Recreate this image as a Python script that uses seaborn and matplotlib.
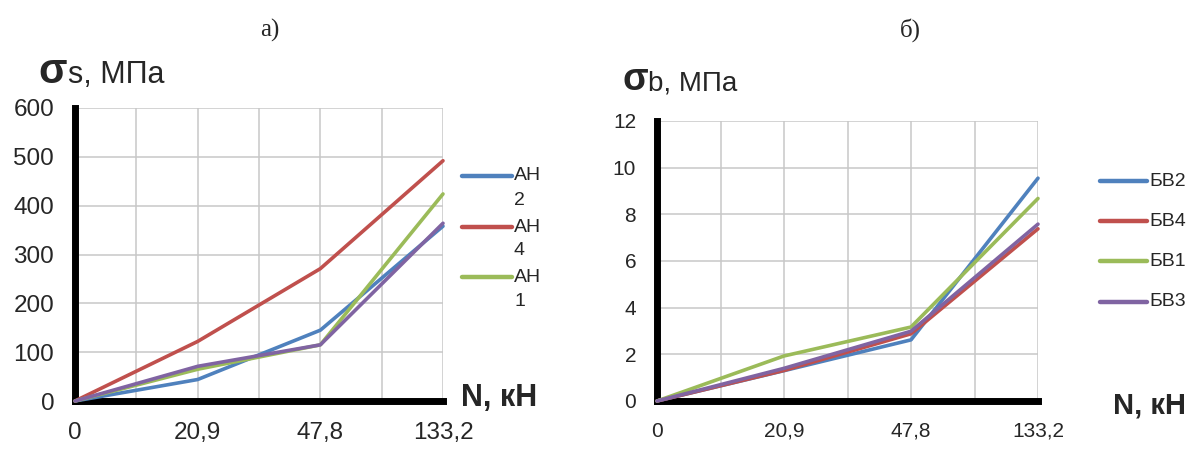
import numpy as np
import pandas as pd
import matplotlib
matplotlib.use('Agg')
import matplotlib.pyplot as plt
from matplotlib.lines import Line2D
import seaborn as sns

# loads, N kN (category labels on the x axis)
loads = ['0', '20,9', '47,8', '133,2']
load_pos = [0, 2, 4, 6]

# a) sigma_s, MPa
ah_names = ['АН\n2', 'АН\n4', 'АН\n1', 'АН3']
ah2 = [0, 44, 145, 358]
ah4 = [0, 122, 271, 492]
ah1 = [0, 65, 115, 424]
ah3 = [0, 71, 115, 364]

# b) sigma_b, MPa
bv_names = ['БВ2', 'БВ4', 'БВ1', 'БВ3']
bv2 = [0, 1.30, 2.62, 9.55]
bv4 = [0, 1.31, 2.88, 7.38]
bv1 = [0, 1.93, 3.17, 8.68]
bv3 = [0, 1.40, 2.99, 7.58]

colors = ['#4F81BD', '#C0504D', '#9BBB59', '#8064A2']
W, H = 1199, 449


def long_df(names, series):
    rows = []
    for name, vals in zip(names, series):
        for p, v in zip(load_pos, vals):
            rows.append({'x': p, 'y': v, 'series': name})
    return pd.DataFrame(rows)


def style_axes(ax, ymax, ystep, tick_size):
    ax.set_xlim(0, 6)
    ax.set_ylim(0, ymax)
    ax.set_xticks(load_pos)
    ax.set_xticklabels(loads, fontsize=tick_size, family='Liberation Sans')
    ax.set_xticks([1, 3, 5], minor=True)
    yt = np.arange(0, ymax + ystep / 2, ystep)
    ax.set_yticks(yt)
    ax.set_yticklabels([f'{v:g}' for v in yt], fontsize=tick_size,
                       family='Liberation Sans')
    ax.grid(True, which='both', color='#c8c8c8', linewidth=1.1)
    ax.tick_params(axis='both', which='major', length=4, width=4, color='black')
    ax.tick_params(axis='y', which='major', pad=11)
    ax.tick_params(axis='x', which='major', pad=11)
    ax.tick_params(axis='x', which='minor', length=0)
    for s in ['top', 'right']:
        ax.spines[s].set_visible(False)
    for s in ['left', 'bottom']:
        ax.spines[s].set_linewidth(5)
        ax.spines[s].set_color('black')
        ax.spines[s].set_zorder(5)
    ax.set_xlabel('')
    ax.set_ylabel('')
    ax.set_axisbelow(True)


def manual_legend(fig, labels, x0, x1, ys, size, second_line_dy=0):
    # Excel style legend: handle next to the first line of the label
    for lab, col, y in zip(labels, colors, ys):
        fig.add_artist(Line2D([x0 / W, x1 / W], [1 - y / H, 1 - y / H],
                              color=col, linewidth=3.2,
                              solid_capstyle='round'))
        parts = lab.split('\n')
        fig.text((x1 + 2) / W, 1 - y / H, parts[0], ha='left',
                 va='center', family='Liberation Sans', fontsize=size)
        if len(parts) > 1:
            fig.text((x1 + 2) / W, 1 - (y + second_line_dy) / H, parts[1],
                     ha='left', va='center', family='Liberation Sans',
                     fontsize=size)


sns.set_style('white')
fig = plt.figure(figsize=(W / 100, H / 100), dpi=100)

ax1 = fig.add_axes([75 / W, 48 / H, 368 / W, 293 / H])
df1 = long_df(ah_names, [ah2, ah4, ah1, ah3])
sns.lineplot(data=df1, x='x', y='y', hue='series', palette=colors, ax=ax1,
             linewidth=2.6, legend=False, clip_on=False, zorder=6)
style_axes(ax1, 600, 100, 17.5)
manual_legend(fig, ah_names[:3], 462, 512, [176, 227, 277], 14,
              second_line_dy=24)

ax2 = fig.add_axes([657 / W, 48 / H, 381 / W, 280 / H])
df2 = long_df(bv_names, [bv2, bv4, bv1, bv3])
sns.lineplot(data=df2, x='x', y='y', hue='series', palette=colors, ax=ax2,
             linewidth=2.6, legend=False, clip_on=False, zorder=6)
style_axes(ax2, 12, 2, 15)
manual_legend(fig, bv_names, 1100, 1147, [181, 221, 261, 302], 14)

# panel titles
fig.text(270 / W, 1 - 30 / H, 'а)', ha='center', va='center',
         family='Liberation Serif', fontsize=18)
fig.text(910 / W, 1 - 30 / H, 'б)', ha='center', va='center',
         family='Liberation Serif', fontsize=18)

# axis captions
fig.text(38 / W, 1 - 83 / H, 'σ', ha='left', va='baseline',
         family='Liberation Sans', fontsize=30, fontweight='bold')
fig.text(68 / W, 1 - 83 / H, 's, МПа', ha='left', va='baseline',
         family='Liberation Sans', fontsize=22)
fig.text(623 / W, 1 - 90 / H, 'σ', ha='left', va='baseline',
         family='Liberation Sans', fontsize=27, fontweight='bold')
fig.text(648 / W, 1 - 90 / H, 'b, МПа', ha='left', va='baseline',
         family='Liberation Sans', fontsize=20)
fig.text(461 / W, 1 - 398 / H, 'N, кН', ha='left', va='center',
         family='Liberation Sans', fontsize=22, fontweight='bold')
fig.text(1113 / W, 1 - 405 / H, 'N, кН', ha='left', va='center',
         family='Liberation Sans', fontsize=21, fontweight='bold')

fig.savefig('out.png', dpi=100)
